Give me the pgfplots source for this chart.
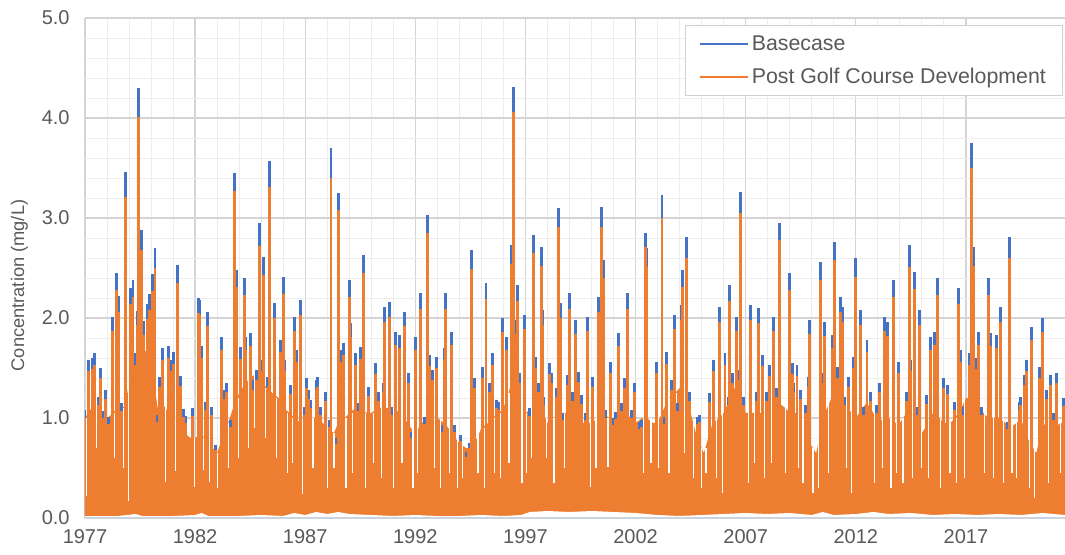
\documentclass[border=0pt]{standalone}
\usepackage{fontspec}
\setmainfont{Liberation Sans}
\usepackage{pgfplots}
\usepackage{pgfplotstable}
\pgfplotsset{compat=1.18}
\definecolor{bc}{HTML}{4472C4}
\definecolor{pg}{HTML}{ED7D31}
\definecolor{txt}{HTML}{595959}
\definecolor{gmaj}{HTML}{D4D4D4}
\definecolor{gmin}{HTML}{EDEDED}
\definecolor{legb}{HTML}{D0D0D0}
\definecolor{zl}{HTML}{CDD3DC}

% peaks: year, basecase, post development
\pgfplotstableread{
x b p
1977.00 1.08 1.00
1977.18 1.58 1.47
1977.33 1.60 1.49
1977.44 1.65 1.53
1977.60 1.21 1.13
1977.71 1.50 1.40
1977.80 1.07 1.00
1977.94 1.28 1.19
1978.08 1.01 0.94
1978.24 2.01 1.87
1978.44 2.45 2.28
1978.52 2.22 2.06
1978.64 1.15 1.07
1978.82 3.46 3.21
1979.08 2.30 2.14
1979.18 2.38 2.21
1979.27 1.65 1.53
1979.37 2.07 1.93
1979.45 4.30 4.01
1979.55 2.88 2.68
1979.68 1.97 1.83
1979.83 2.14 1.99
1979.95 2.24 2.08
1980.07 2.44 2.27
1980.18 2.70 2.50
1980.28 1.03 0.96
1980.39 1.41 1.31
1980.51 1.70 1.58
1980.79 1.72 1.60
1980.90 1.58 1.47
1981.02 1.66 1.54
1981.21 2.53 2.35
1981.32 1.42 1.32
1981.47 1.09 1.01
1981.58 1.02 0.95
1981.88 1.10 1.02
1982.15 2.20 2.05
1982.22 2.18 2.03
1982.30 1.72 1.60
1982.48 1.16 1.08
1982.56 2.06 1.92
1982.75 1.11 1.03
1982.93 0.73 0.68
1983.21 1.81 1.68
1983.32 1.28 1.19
1983.42 1.35 1.26
1983.59 0.98 0.91
1983.80 3.45 3.27
1983.88 2.48 2.31
1984.08 1.71 1.59
1984.23 2.40 2.23
1984.30 1.81 1.68
1984.53 1.85 1.72
1984.61 1.38 1.28
1984.79 1.48 1.38
1984.91 2.95 2.72
1985.01 1.58 1.47
1985.12 2.61 2.43
1985.29 1.41 1.31
1985.39 3.57 3.31
1985.59 2.15 2.00
1985.89 1.78 1.66
1986.00 2.41 2.24
1986.08 1.58 1.47
1986.35 1.33 1.24
1986.53 2.01 1.87
1986.61 1.68 1.56
1986.77 2.18 2.03
1986.95 1.11 1.03
1987.06 1.40 1.30
1987.15 1.28 1.19
1987.26 1.18 1.10
1987.49 1.38 1.28
1987.56 1.41 1.31
1987.71 1.11 1.03
1987.94 1.26 1.17
1988.09 0.98 0.91
1988.17 3.70 3.40
1988.42 0.80 0.74
1988.52 3.25 3.08
1988.62 1.68 1.56
1988.73 1.75 1.63
1989.00 2.38 2.21
1989.05 1.95 1.81
1989.30 1.65 1.53
1989.42 1.15 1.07
1989.53 1.71 1.59
1989.64 2.63 2.45
1989.88 1.31 1.22
1990.18 1.55 1.44
1990.33 1.26 1.17
1990.55 1.35 1.26
1990.62 2.11 1.96
1990.82 2.16 2.01
1990.92 1.11 1.03
1991.09 1.86 1.73
1991.30 1.83 1.70
1991.50 2.06 1.92
1991.68 1.45 1.35
1991.80 0.86 0.80
1991.99 1.81 1.68
1992.23 2.25 2.09
1992.41 1.01 0.94
1992.56 3.03 2.85
1992.64 1.63 1.52
1992.76 1.48 1.38
1992.94 1.61 1.50
1993.24 0.93 0.86
1993.32 1.70 1.58
1993.39 2.25 2.09
1993.65 1.86 1.73
1993.77 0.93 0.86
1994.03 0.83 0.77
1994.30 0.66 0.61
1994.45 0.75 0.70
1994.56 2.68 2.49
1994.68 1.40 1.30
1995.06 1.51 1.40
1995.21 2.35 2.19
1995.36 1.35 1.26
1995.49 1.65 1.53
1995.67 1.18 1.10
1995.79 1.16 1.08
1995.97 2.00 1.86
1996.15 1.81 1.68
1996.35 2.73 2.54
1996.44 4.31 4.06
1996.55 1.98 1.84
1996.65 2.33 2.17
1996.73 1.45 1.35
1996.95 2.03 1.89
1997.18 1.10 1.02
1997.38 2.83 2.65
1997.45 1.61 1.50
1997.60 1.35 1.26
1997.71 2.71 2.52
1997.76 2.08 1.93
1997.83 1.21 1.13
1998.09 1.55 1.44
1998.17 1.45 1.35
1998.39 1.30 1.21
1998.51 3.10 2.91
1998.59 2.15 2.00
1998.70 1.05 0.98
1998.90 1.43 1.33
1999.00 2.25 2.09
1999.12 1.26 1.17
1999.27 1.98 1.84
1999.42 1.46 1.36
1999.56 1.23 1.14
1999.73 1.05 0.98
1999.83 2.01 1.87
2000.06 1.41 1.31
2000.32 2.21 2.06
2000.47 3.11 2.91
2000.55 2.58 2.40
2000.64 1.08 1.00
2000.85 1.56 1.45
2000.97 1.00 0.93
2001.08 1.06 0.99
2001.24 1.85 1.72
2001.35 1.15 1.07
2001.50 1.40 1.30
2001.65 2.25 2.09
2001.80 1.08 1.00
2001.95 1.35 1.26
2002.18 0.96 0.89
2002.26 0.98 0.91
2002.45 2.85 2.71
2002.51 2.70 2.51
2002.97 1.56 1.45
2003.20 3.23 3.00
2003.29 1.01 0.94
2003.39 1.66 1.54
2003.62 1.38 1.28
2003.77 2.03 1.89
2003.92 1.15 1.07
2004.08 2.13 1.98
2004.12 2.48 2.31
2004.30 2.81 2.60
2004.45 1.26 1.17
2004.79 1.01 0.94
2004.91 1.03 0.96
2005.36 1.25 1.16
2005.55 1.58 1.47
2005.82 2.11 1.96
2006.06 1.65 1.53
2006.20 1.21 1.13
2006.27 2.33 2.17
2006.42 1.45 1.35
2006.58 2.01 1.87
2006.68 1.48 1.38
2006.76 3.26 3.05
2006.88 1.21 1.13
2007.23 2.13 1.98
2007.49 1.26 1.17
2007.60 2.10 1.95
2007.76 1.63 1.52
2007.94 1.26 1.17
2008.09 1.53 1.42
2008.27 2.01 1.87
2008.40 1.30 1.21
2008.55 2.95 2.78
2008.97 2.45 2.28
2009.12 1.55 1.44
2009.18 1.35 1.26
2009.33 1.53 1.42
2009.49 1.28 1.19
2009.73 1.13 1.05
2009.83 1.41 1.31
2009.91 1.98 1.84
2010.39 2.56 2.38
2010.48 1.45 1.35
2010.56 1.96 1.82
2010.94 1.83 1.70
2011.05 2.76 2.58
2011.15 1.51 1.40
2011.30 2.21 2.06
2011.38 2.11 1.96
2011.50 1.21 1.13
2011.65 1.41 1.31
2011.88 1.61 1.50
2012.00 2.60 2.41
2012.21 2.08 1.93
2012.36 1.11 1.03
2012.51 1.78 1.66
2012.67 1.26 1.17
2012.94 1.13 1.05
2013.09 1.35 1.26
2013.32 2.01 1.87
2013.44 1.96 1.82
2013.73 2.38 2.21
2013.95 1.56 1.45
2014.30 1.26 1.17
2014.42 2.73 2.51
2014.50 1.58 1.47
2014.68 2.46 2.29
2014.79 1.11 1.03
2014.91 2.08 1.93
2015.21 1.23 1.14
2015.41 1.81 1.68
2015.56 1.86 1.73
2015.70 2.40 2.23
2016.00 1.40 1.30
2016.15 1.33 1.24
2016.49 1.16 1.08
2016.68 2.30 2.14
2016.74 1.68 1.56
2016.83 1.11 1.03
2017.15 1.65 1.53
2017.24 3.75 3.50
2017.33 2.71 2.52
2017.49 1.60 1.49
2017.56 1.86 1.73
2017.71 1.11 1.03
2018.01 2.40 2.23
2018.12 1.85 1.72
2018.39 1.83 1.70
2018.55 2.11 1.96
2018.88 0.96 0.89
2018.97 2.81 2.60
2019.42 1.16 1.08
2019.50 1.21 1.13
2019.65 1.43 1.33
2019.76 1.58 1.47
2019.99 1.91 1.78
2020.33 1.51 1.40
2020.48 2.00 1.86
2020.64 1.28 1.19
2020.86 1.43 1.33
2020.97 1.05 0.98
2021.12 1.45 1.35
2021.45 1.20 1.12
}\peaks

% top of the dense orange mass
\pgfplotstableread{
x y
1977.0 1.00
1977.3 1.10
1977.5 1.10
1977.8 1.00
1978.0 1.00
1978.3 1.05
1978.5 1.15
1978.8 1.10
1979.0 1.35
1979.2 1.55
1979.5 1.75
1979.8 1.65
1980.1 1.40
1980.3 1.10
1980.5 1.15
1980.8 1.05
1981.0 1.00
1981.3 0.95
1981.5 0.85
1981.8 0.80
1982.0 0.80
1982.3 0.85
1982.5 0.75
1982.8 0.70
1983.0 0.65
1983.3 0.85
1983.5 0.95
1983.8 1.15
1984.0 1.25
1984.3 1.35
1984.5 1.40
1984.8 1.45
1985.0 1.35
1985.3 1.30
1985.5 1.25
1985.8 1.20
1986.0 1.10
1986.3 1.05
1986.5 1.00
1986.8 0.95
1987.0 0.95
1987.3 1.00
1987.5 1.00
1987.8 0.95
1988.0 0.90
1988.3 0.85
1988.5 0.95
1988.8 1.00
1989.0 1.05
1989.3 1.10
1989.5 1.10
1989.8 1.05
1990.0 1.05
1990.3 1.10
1990.5 1.10
1990.8 1.10
1991.0 1.10
1991.3 1.05
1991.5 1.00
1991.8 0.90
1992.0 0.85
1992.3 0.95
1992.5 1.00
1992.8 1.00
1993.0 1.00
1993.3 0.95
1993.5 0.90
1993.8 0.80
1994.0 0.75
1994.3 0.70
1994.5 0.70
1994.8 0.80
1995.0 0.90
1995.3 0.95
1995.5 1.00
1995.8 1.05
1996.0 1.10
1996.3 1.30
1996.5 1.40
1996.8 1.15
1997.0 1.05
1997.3 1.10
1997.5 1.10
1997.8 1.05
1998.0 0.95
1998.3 1.00
1998.5 1.05
1998.8 1.05
1999.0 1.05
1999.3 1.00
1999.5 0.95
1999.8 0.95
2000.0 0.95
2000.3 1.00
2000.5 1.05
2000.8 1.00
2001.0 0.95
2001.3 1.00
2001.5 1.05
2001.8 1.00
2002.0 0.95
2002.3 1.00
2002.5 1.00
2002.8 0.95
2003.0 0.95
2003.3 1.10
2003.5 1.20
2003.8 1.25
2004.0 1.30
2004.3 1.20
2004.5 1.05
2004.8 0.80
2005.1 0.65
2005.3 0.80
2005.5 0.95
2005.8 1.00
2006.0 1.05
2006.3 1.20
2006.5 1.30
2006.8 1.15
2007.0 1.05
2007.3 1.05
2007.5 1.05
2007.8 1.05
2008.0 1.05
2008.3 1.10
2008.5 1.15
2008.8 1.10
2009.0 1.05
2009.3 1.05
2009.5 1.05
2009.7 0.90
2009.9 0.75
2010.2 0.65
2010.4 0.85
2010.6 1.05
2010.8 1.15
2011.0 1.25
2011.3 1.20
2011.5 1.15
2011.8 1.05
2012.0 1.00
2012.3 1.10
2012.5 1.15
2012.8 1.05
2013.0 0.95
2013.3 1.00
2013.5 1.00
2013.8 0.95
2014.0 0.95
2014.3 1.05
2014.5 1.15
2014.8 1.00
2015.0 0.85
2015.3 0.95
2015.5 1.05
2015.8 1.00
2016.0 0.95
2016.3 0.95
2016.5 1.00
2016.8 1.10
2017.0 1.20
2017.3 1.20
2017.5 1.15
2017.8 1.05
2018.0 1.00
2018.3 1.00
2018.5 1.00
2018.8 0.95
2019.0 0.90
2019.3 0.95
2019.5 1.00
2019.7 0.85
2019.9 0.75
2020.2 0.65
2020.4 0.85
2020.6 0.95
2020.8 0.95
2021.0 0.90
2021.3 0.95
2021.5 0.95
}\mass

% low days inside the mass: year, top, low
\pgfplotstableread{
x t l
1977.06 1.00 0.22
1977.29 1.10 0.50
1977.52 1.10 0.70
1977.87 1.00 0.35
1978.01 1.00 0.44
1978.35 1.05 0.60
1978.74 1.10 0.50
1979.00 1.35 0.17
1979.62 1.75 0.90
1979.90 1.65 1.00
1980.35 1.10 0.60
1980.67 1.10 0.36
1981.12 1.00 0.47
1981.40 0.90 0.60
1981.95 0.80 0.31
1982.41 0.80 0.48
1982.67 0.75 0.36
1983.02 0.65 0.30
1983.50 0.95 0.50
1983.95 1.20 0.60
1984.45 1.40 0.70
1984.70 1.45 0.90
1985.20 1.30 0.80
1985.70 1.20 0.60
1986.20 1.05 0.45
1986.44 1.00 0.55
1986.85 0.95 0.24
1987.35 1.00 0.50
1987.62 1.00 0.35
1988.02 0.90 0.30
1988.30 0.85 0.50
1988.85 1.00 0.30
1989.15 1.05 0.45
1989.75 1.05 0.30
1990.10 1.05 0.55
1990.45 1.10 0.40
1990.98 1.10 0.30
1991.40 1.05 0.55
1991.90 0.90 0.30
1992.10 0.90 0.45
1992.48 1.00 0.25
1992.85 1.00 0.50
1993.15 1.00 0.30
1993.58 0.90 0.45
1993.90 0.80 0.30
1994.15 0.75 0.40
1994.62 0.75 0.25
1994.85 0.85 0.45
1995.12 0.90 0.30
1995.60 1.00 0.45
1995.88 1.05 0.40
1996.25 1.25 0.55
1996.85 1.15 0.35
1997.05 1.05 0.45
1997.28 1.10 0.60
1997.95 1.00 0.60
1998.30 1.00 0.35
1998.78 1.05 0.50
1999.20 1.05 0.55
1999.50 0.95 0.35
1999.95 0.95 0.31
2000.20 1.00 0.50
2000.75 1.00 0.51
2001.15 1.00 0.45
2001.45 1.05 0.55
2001.88 1.00 0.40
2002.35 1.00 0.45
2002.70 1.00 0.55
2003.05 1.00 0.50
2003.52 1.20 0.45
2003.85 1.25 0.55
2004.20 1.25 0.65
2004.62 0.95 0.40
2005.00 0.70 0.30
2005.20 0.70 0.45
2005.68 1.00 0.40
2005.95 1.05 0.25
2006.35 1.20 0.55
2006.95 1.10 0.45
2007.15 1.05 0.35
2007.40 1.05 0.55
2007.85 1.05 0.40
2008.20 1.10 0.55
2008.80 1.10 0.45
2009.05 1.05 0.25
2009.40 1.05 0.50
2009.60 1.00 0.35
2010.05 0.70 0.25
2010.30 0.80 0.30
2010.75 1.15 0.45
2011.22 1.20 0.35
2011.58 1.15 0.50
2011.80 1.05 0.25
2012.28 1.10 0.45
2012.85 1.05 0.35
2013.20 1.00 0.50
2013.60 1.00 0.30
2013.85 0.95 0.45
2014.15 1.00 0.35
2014.58 1.15 0.40
2014.98 0.90 0.50
2015.30 0.95 0.40
2015.63 1.05 0.45
2015.85 1.00 0.30
2016.28 0.95 0.45
2016.58 1.00 0.35
2016.95 1.20 0.40
2017.40 1.20 0.50
2017.85 1.05 0.45
2018.25 1.00 0.40
2018.70 1.00 0.35
2019.10 0.95 0.45
2019.30 0.95 0.40
2019.88 0.80 0.30
2020.10 0.70 0.20
2020.40 0.85 0.45
2020.75 0.95 0.35
2021.05 0.95 0.40
2021.30 0.95 0.45
}\dips

% lowest daily values (white band at the bottom)
\pgfplotstableread{
x y
1977.0 0.02
1978.5 0.02
1979.3 0.04
1979.6 0.02
1981.0 0.02
1982.0 0.03
1982.3 0.05
1982.6 0.02
1984.0 0.02
1985.0 0.03
1986.0 0.02
1986.5 0.05
1987.0 0.03
1987.5 0.06
1988.0 0.04
1988.5 0.06
1989.0 0.04
1990.0 0.03
1991.0 0.02
1992.0 0.03
1993.0 0.02
1994.0 0.02
1995.0 0.03
1996.0 0.02
1996.8 0.03
1997.2 0.06
1998.0 0.07
1999.0 0.06
2000.0 0.07
2001.0 0.06
2002.0 0.05
2003.0 0.03
2004.0 0.02
2005.0 0.03
2006.0 0.04
2007.0 0.05
2008.0 0.04
2009.0 0.05
2010.0 0.03
2010.5 0.06
2011.0 0.03
2012.0 0.04
2012.8 0.06
2013.5 0.04
2014.5 0.05
2015.5 0.03
2016.5 0.04
2017.5 0.03
2018.5 0.04
2019.5 0.03
2020.5 0.05
2021.5 0.03
}\lows

\begin{document}
\begin{tikzpicture}
\begin{axis}[
  at={(0,0)}, anchor=south west,
  scale only axis, width=735pt, height=375pt,
  xmin=1977, xmax=2021.5, ymin=0, ymax=5,
  xtick={1977,1982,...,2017}, minor x tick num=4,
  ytick={0,1,...,5}, minor y tick num=4,
  grid=both,
  major grid style={draw=gmaj, line width=1.0pt},
  minor grid style={draw=gmin, line width=0.7pt},
  axis line style={draw=none},
  major tick length=0pt, minor tick length=0pt,
  /pgf/number format/assume math mode=true,
  tick label style={font=\fontsize{15}{18}\selectfont, text=txt},
  x tick label style={/pgf/number format/1000 sep={}, yshift=-5pt},
  y tick label style={/pgf/number format/.cd, fixed, fixed zerofill, precision=1, 1000 sep={}, /tikz/.cd, xshift=-8pt},
  ylabel={Concentration (mg/L)},
  ylabel style={font=\fontsize{13.7}{16}\selectfont, text=txt, at={(axis description cs:-0.067,0.465)}, anchor=center},
  legend style={at={(0.998,0.986)}, anchor=north east, draw=legb, line width=0.8pt, fill=white,
    font=\fontsize{16}{19}\selectfont, text=txt, inner xsep=10pt, inner ysep=5pt, row sep=7pt,
    nodes={inner sep=2.5pt}},
  legend cell align=left,
  legend image code/.code={\draw[#1] (0pt,0pt) -- (36pt,0pt);},
]
\addplot[fill=pg, draw=none, forget plot] table[x=x, y=y] {\mass} \closedcycle;
\addplot[ycomb, draw=white, line width=1.0pt, forget plot] table[x=x, y=t] {\dips};
\addplot[ycomb, draw=pg, line width=1.0pt, forget plot] table[x=x, y=l] {\dips};
\addplot[ycomb, draw=bc, line width=2.2pt, forget plot] table[x=x, y=b] {\peaks};
\addplot[ycomb, draw=pg, line width=2.2pt, forget plot] table[x=x, y=p] {\peaks};
\addplot[fill=white, draw=none, forget plot] table[x=x, y=y] {\lows} \closedcycle;
\addplot[draw=zl, line width=1.1pt, forget plot] coordinates {(1977,0) (2021.5,0)};
\addlegendimage{draw=bc, line width=1.3pt}
\addlegendentry{Basecase}
\addlegendimage{draw=pg, line width=1.3pt}
\addlegendentry{Post Golf Course Development}
\end{axis}
\pgfresetboundingbox
\path[use as bounding box] (-63.75pt,-27pt) rectangle (735pt,388.5pt);
\end{tikzpicture}
\end{document}
